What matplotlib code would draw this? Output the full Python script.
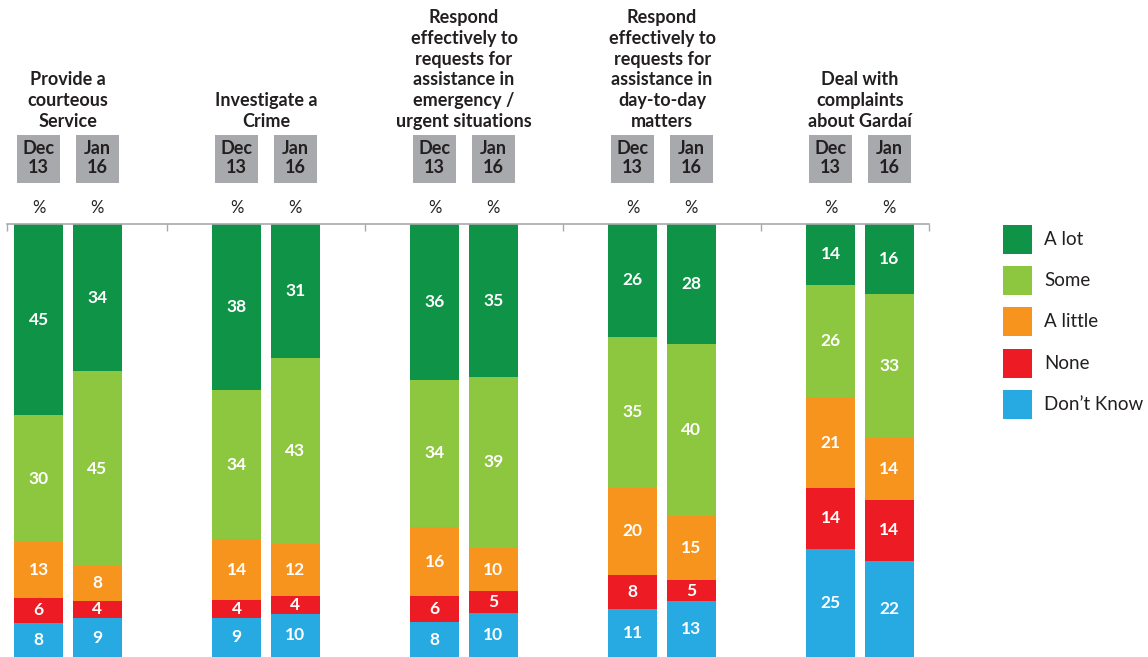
import matplotlib.pyplot as plt
import numpy as np
from matplotlib.patches import Rectangle
from matplotlib.transforms import blended_transform_factory

plt.rcParams['font.family'] = ['Lato', 'DejaVu Sans']

groups = ["Provide a\ncourteous\nService",
          "Investigate a\nCrime",
          "Respond\neffectively to\nrequests for\nassistance in\nemergency /\nurgent situations",
          "Respond\neffectively to\nrequests for\nassistance in\nday-to-day\nmatters",
          "Deal with\ncomplaints\nabout Gardaí"]
periods = ["Dec\n13", "Jan\n16"]
answers = ["A lot", "Some", "A little", "None", "Don\u2019t Know"]
colors = ["#0f9447", "#8dc63f", "#f7941e", "#ed1c24", "#27aae1"]

# [group] -> values for answers
dec13 = [[45, 30, 13, 6, 8],
         [38, 34, 14, 4, 9],
         [36, 34, 16, 6, 8],
         [26, 35, 20, 8, 11],
         [14, 26, 21, 14, 25]]
jan16 = [[34, 45, 8, 4, 9],
         [31, 43, 12, 4, 10],
         [35, 39, 10, 5, 10],
         [28, 40, 15, 5, 13],
         [16, 33, 14, 14, 22]]

W, H = 1148, 657
fig = plt.figure(figsize=(W / 100, H / 100), dpi=100)
ax = fig.add_axes([7 / W, 0, 922 / W, 433 / H])

off = 0.148
bw = 0.247
dark = "#231f20"
for g in range(len(groups)):
    for p, data in enumerate([dec13, jan16]):
        vals = np.array(data[g], dtype=float)
        h = vals / vals.sum() * 100
        x = g - off if p == 0 else g + off
        bottom = 0
        for k in range(len(answers)):
            ax.bar(x, h[k], bw, bottom=bottom, color=colors[k], linewidth=0)
            ax.text(x, bottom + h[k] / 2, str(data[g][k]), ha='center', va='center',
                    color='white', fontsize=12.5, fontweight='bold')
            bottom += h[k]

ax.set_ylim(100, 0)
ax.set_xlim(-0.308, 4.348)
for s in ['left', 'right', 'bottom']:
    ax.spines[s].set_visible(False)
ax.spines['top'].set_color('#a7a9ac')
ax.spines['top'].set_linewidth(1.2)
ax.xaxis.tick_top()
ax.set_xticks([-0.308, 0.5, 1.5, 2.5, 3.5, 4.348])
ax.set_xticklabels([])
ax.tick_params(axis='x', direction='in', length=5, color='#a7a9ac', width=1)
ax.set_yticks([])

tr = blended_transform_factory(ax.transData, fig.transFigure)
for g, name in enumerate(groups):
    ax.text(g, 1 - 130 / H, name, transform=tr, ha='center', va='bottom',
            fontsize=13, fontweight='bold', color=dark, linespacing=1.27)
    for p in range(2):
        x = g - off if p == 0 else g + off
        ax.add_patch(Rectangle((x - 0.109, 1 - 183 / H), 0.218, 48 / H,
                               transform=tr, color='#a7a9ac', clip_on=False, linewidth=0))
        ax.text(x, 1 - 158 / H, periods[p], transform=tr, ha='center', va='center',
                fontsize=13, fontweight='bold', color=dark, linespacing=1.2)
        ax.text(x, 1 - 208 / H, "%", transform=tr, ha='center', va='center',
                fontsize=12, color=dark)

# legend
for i, (lab, c) in enumerate(zip(answers, colors)):
    yc = 239.5 + 41.2 * i
    fig.patches.append(Rectangle((1003 / W, 1 - (yc + 14.5) / H), 29 / W, 29 / H,
                                 transform=fig.transFigure, color=c, linewidth=0))
    fig.text(1044 / W, 1 - yc / H, lab, ha='left', va='center',
             fontsize=13.5, color=dark)

fig.savefig("out.png", dpi=100)
